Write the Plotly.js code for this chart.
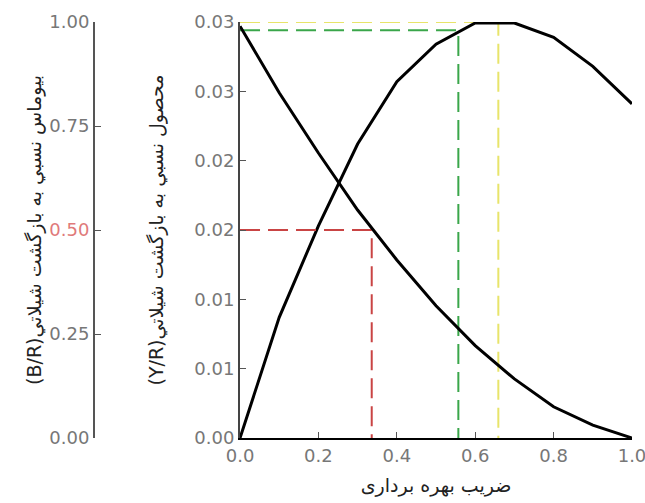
<!DOCTYPE html>
<html>
<head>
<meta charset="utf-8">
<script src="https://cdn.plot.ly/plotly-3.0.1.min.js"></script>
<style>html,body{margin:0;padding:0;background:#fff;}#chart{width:645px;height:503px;}</style>
</head>
<body>
<div id="chart"></div>
<script>
// Fishing coefficient (F)
const fValues = [0, 0.1, 0.2, 0.3, 0.4, 0.5, 0.6, 0.7, 0.8, 0.9, 1.0];
// Relative yield per recruit (Y/R)
const yieldPerRecruit = [0, 0.0087, 0.0153, 0.0212, 0.0257, 0.0284, 0.02993, 0.02993, 0.0289, 0.0268, 0.0241];
// Relative biomass per recruit (B/R)
const biomassPerRecruit = [0.99, 0.83, 0.685, 0.548, 0.428, 0.318, 0.222, 0.142, 0.075, 0.031, 0.0];

// Reference points
const f05 = 0.336, br05 = 0.5;          // B/R = 0.5
const f01 = 0.557, yr01 = 0.0294;       // green reference
const fMax = 0.659, yrMax = 0.0300;     // yellow: maximum Y/R

// Tick labels
const yTickVals = [0, 0.005, 0.01, 0.015, 0.02, 0.025, 0.03];
const yTickText = ["0.00", "0.01", "0.01", "0.02", "0.02", "0.03", "0.03"];
const y2TickVals = [0, 0.25, 0.5, 0.75, 1.0];
const y2TickText = ["0.00", "0.25", '<span style="color:#e07a7a">0.50</span>', "0.75", "1.00"];
const xTickVals = [0, 0.2, 0.4, 0.6, 0.8, 1.0];
const xTickText = ["0.0", "0.2", "0.4", "0.6", "0.8", "1.0"];

const xTitle = "ضریب بهره برداری";
const yTitle = "(Y/R)محصول نسبي به بازگشت شيلاتي";
const y2Title = "(B/R)بيوماس نسبي به بازگشت شيلاتي";

const dashStyle = "20px,8px";
const traces = [
  {x: [0, f05, f05], y: [br05, br05, 0], yaxis: 'y2', mode: 'lines',
   line: {color: '#c94444', width: 2, dash: dashStyle}, hoverinfo: 'skip'},
  {x: [0, fMax, fMax], y: [yrMax, yrMax, 0], mode: 'lines',
   line: {color: '#e8e46a', width: 2, dash: dashStyle}, hoverinfo: 'skip'},
  {x: [0, f01, f01], y: [yr01, yr01, 0], mode: 'lines',
   line: {color: '#3aa64a', width: 2, dash: dashStyle}, hoverinfo: 'skip'},
  {x: fValues, y: yieldPerRecruit, mode: 'lines', name: 'Y/R',
   line: {color: '#000', width: 3}},
  {x: fValues, y: biomassPerRecruit, yaxis: 'y2', mode: 'lines', name: 'B/R',
   line: {color: '#000', width: 3}}
];

const tickFont = {family: 'DejaVu Sans, sans-serif', size: 18, color: '#777'};
const yTitleFont = {family: 'DejaVu Sans, sans-serif', size: 19, color: '#222'};
const xTitleFont = {family: 'DejaVu Sans, sans-serif', size: 19, color: '#222'};

const layout = {
  width: 645, height: 503,
  margin: {l: 80, r: 13, t: 22, b: 65},
  paper_bgcolor: '#fff', plot_bgcolor: '#fff',
  showlegend: false,
  xaxis: {
    domain: [0.2899, 1], range: [0, 1],
    tickvals: xTickVals, ticktext: xTickText,
    ticks: 'inside', ticklen: 6, tickcolor: '#555',
    ticklabeloverflow: 'allow',
    showline: true, linecolor: '#000', linewidth: 2,
    showgrid: false, zeroline: false,
    tickfont: tickFont,
    title: {text: xTitle, font: xTitleFont, standoff: 14}
  },
  yaxis: {
    range: [0, 0.03],
    tickvals: yTickVals, ticktext: yTickText,
    ticks: 'inside', ticklen: 6, tickcolor: '#555',
    showline: true, linecolor: '#444', linewidth: 2,
    showgrid: false, zeroline: false,
    tickfont: tickFont,
    title: {text: yTitle, font: yTitleFont, standoff: 26}
  },
  yaxis2: {
    overlaying: 'y', anchor: 'free', position: 0.0254, side: 'left',
    range: [0, 1],
    tickvals: y2TickVals, ticktext: y2TickText,
    ticks: 'inside', ticklen: 6, tickcolor: '#555',
    showline: true, linecolor: '#555', linewidth: 2,
    showgrid: false, zeroline: false,
    tickfont: tickFont,
    title: {text: y2Title, font: yTitleFont, standoff: 2}
  }
};

Plotly.newPlot('chart', traces, layout, {displayModeBar: false, staticPlot: true});
</script>
</body>
</html>
